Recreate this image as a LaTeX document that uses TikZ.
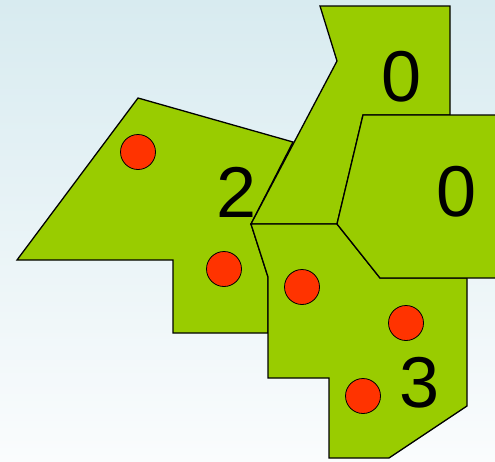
\documentclass[tikz,border=0pt]{standalone}
\usepackage{fontspec}
\newfontfamily\digitfont{Liberation Sans}
\definecolor{leafgreen}{HTML}{99CC00}
\definecolor{seedred}{HTML}{FF3300}
\definecolor{skytop}{RGB}{216,235,240}
\definecolor{skybottom}{RGB}{250,252,253}
\usetikzlibrary{positioning}

\begin{document}
\begin{tikzpicture}[x=1pt, y=-1pt]
        \tikzset{
          region/.style={draw=black, fill=leafgreen, line width=1.3pt,
                         line join=miter},
          seed/.style={circle, draw=black, fill=seedred, line width=0.8pt,
                       minimum size=35pt, inner sep=0pt},
          count/.style={font=\digitfont\fontsize{72}{72}\selectfont,
                        inner sep=0pt, text=black}
        }
        \useasboundingbox (0,0) rectangle (495,461);
        \shade[top color=skytop, bottom color=skybottom] (0,0) rectangle (495,461);
        \clip (0,0) rectangle (495,461);

        % left region
        \path[region] (138,98) -- (293,142) -- (251,224) -- (268,277)
              -- (268,333) -- (173,333) -- (173,260) -- (17,260) -- cycle;
        % upper region
        \path[region] (320,6) -- (450,6) -- (450,115) -- (363,115)
              -- (337,224) -- (251,224) -- (337,61) -- cycle;
        % lower region
        \path[region] (251,224) -- (337,224) -- (380,278) -- (467,278)
              -- (467,406) -- (389,458) -- (329,458) -- (329,378)
              -- (268,378) -- (268,277) -- cycle;
        % right region
        \path[region] (363,115) -- (500,115) -- (500,278) -- (380,278)
              -- (337,224) -- cycle;

        \node[seed] (s1) at (138,152) {};
        \node[seed] (s2) at (224,269) {};
        \node[seed] (s3) at (302,287) {};
        \node[seed] (s4) at (406,323) {};
        \node[seed] (s5) at (363,396) {};

        \node[count] (n0top)   at (402,77)  {0};
        \node[count] (n0right) at (457,192) {0};
        \node[count] (n2)      at (237,192) {2};
        \node[count] (n3)      at (420,383) {3};
      \end{tikzpicture}
\end{document}
